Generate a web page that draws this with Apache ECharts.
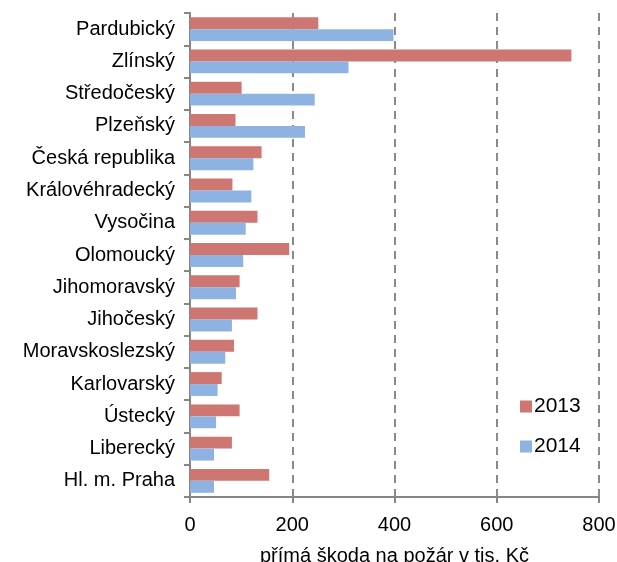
<!DOCTYPE html>
<html><head><meta charset="utf-8">
<script src="https://cdn.jsdelivr.net/npm/echarts@6/dist/echarts.min.js"></script>
<style>html,body{margin:0;padding:0;background:#fff}#c{width:617px;height:562px}</style>
</head><body><div id="c"></div>
<script>
const categories = ['Pardubický','Zlínský','Středočeský','Plzeňský','Česká republika','Královéhradecký','Vysočina','Olomoucký','Jihomoravský','Jihočeský','Moravskoslezský','Karlovarský','Ústecký','Liberecký','Hl. m. Praha'];
const values2013 = [251,746,101,89,140,83,132,194,97,132,86,62,97,82,155];
const values2014 = [398,310,244,225,124,120,109,104,90,82,69,54,51,47,47];
const xTicks = [0,200,400,600,800];
const seriesNames = ['2013','2014'];
const axisTitle = 'přímá škoda na požár v tis. Kč';

const font = 'Liberation Sans, Arial, sans-serif';
const chart = echarts.init(document.getElementById('c'));
chart.setOption({
  animation:false,
  grid:{left:190,right:18,top:13,bottom:65,containLabel:false,outerBoundsMode:'none'},
  legend:{
    orient:'vertical', left:515, top:391, itemWidth:12, itemHeight:12, itemGap:19,
    icon:'rect',
    textStyle:{fontFamily:font,fontSize:21,color:'#000',padding:[0,0,0,-3]},
    data:seriesNames
  },
  xAxis:{
    type:'value', min:xTicks[0], max:xTicks[xTicks.length-1], interval:200,
    name:axisTitle, nameLocation:'middle', nameGap:49,
    nameTextStyle:{fontFamily:font,fontSize:20,color:'#000'},
    axisLine:{show:true,lineStyle:{color:'#868686',width:2}},
    axisTick:{show:true,length:6,lineStyle:{color:'#868686',width:2}},
    axisLabel:{fontFamily:font,fontSize:20,color:'#000',margin:18},
    splitLine:{show:true,lineStyle:{color:'#8a8a8a',type:[8,6],width:2}}
  },
  yAxis:{
    type:'category', data:categories, inverse:true,
    axisLine:{show:true,lineStyle:{color:'#868686',width:2}},
    axisTick:{show:true,length:6,inside:false,lineStyle:{color:'#868686',width:2}},
    axisLabel:{fontFamily:font,fontSize:20,color:'#000',margin:15}
  },
  series:[
    {name:seriesNames[0],type:'bar',data:values2013,barGap:'0%',barCategoryGap:'26%',
     itemStyle:{color:'#cd7672'}},
    {name:seriesNames[1],type:'bar',data:values2014,
     itemStyle:{color:'#8eb3e2'}}
  ]
});
</script></body></html>
